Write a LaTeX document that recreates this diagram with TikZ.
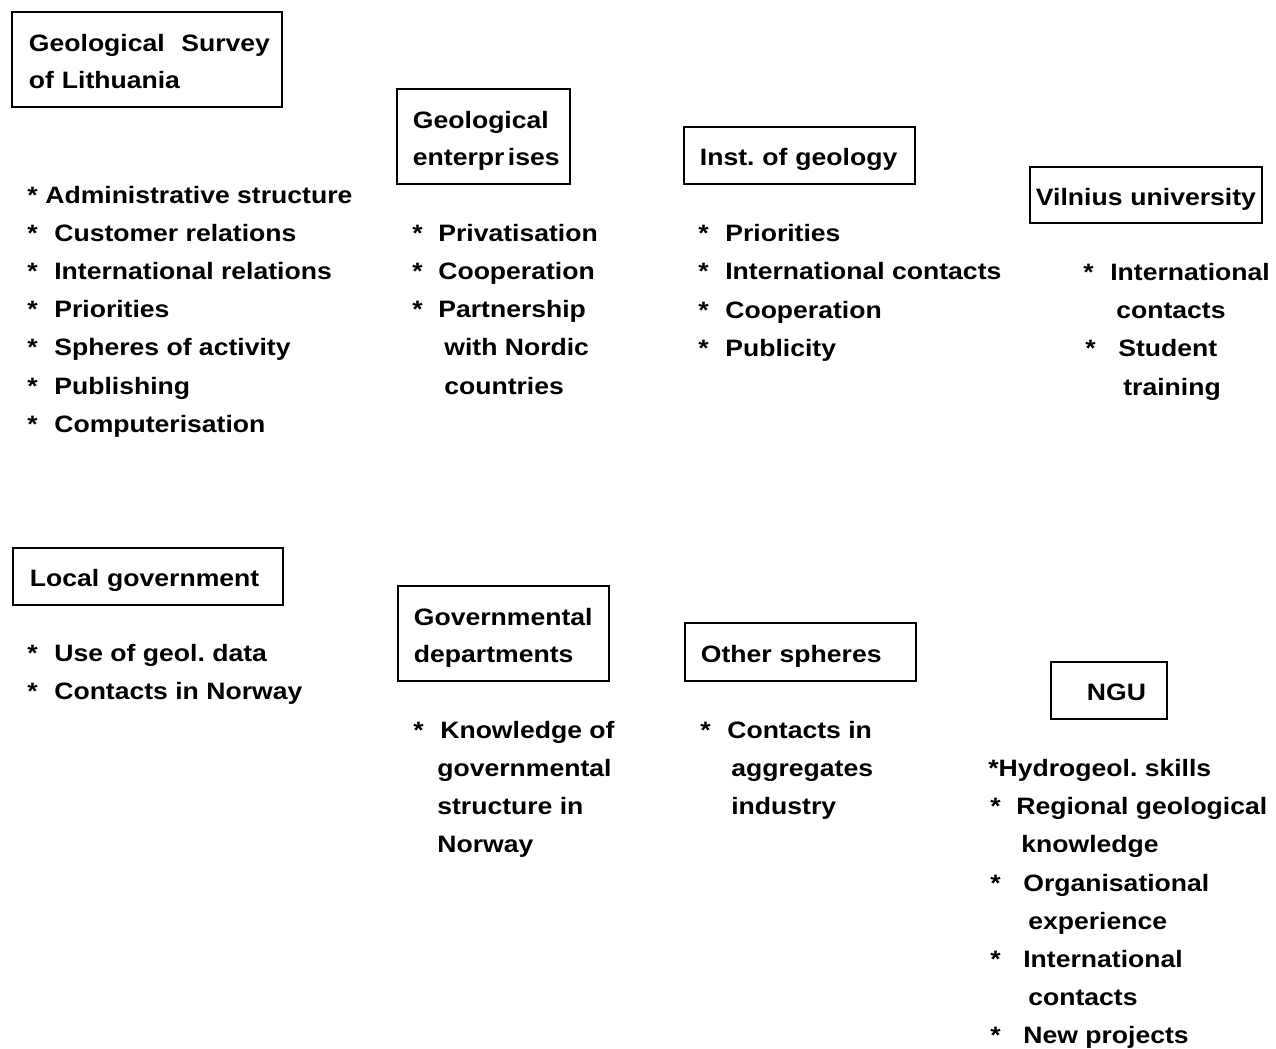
\documentclass[tikz,border=0pt]{standalone}
\usepackage{fontspec}
\setmainfont{Liberation Sans}[FakeStretch=1.12]
\usepackage{tikz}

\tikzset{
  box/.style={draw, line width=1.1pt, anchor=north west, align=left,
    inner ysep=0pt, font=\bfseries\fontsize{13.5}{21.6}\selectfont},
  oneline/.style={text height=11.7pt, text depth=0pt},
  twolines/.style={text depth=19.4pt},
  txt/.style={anchor=base west, inner sep=0pt,
    font=\bfseries\fontsize{13.5}{21.6}\selectfont}
}

\begin{document}
\frenchspacing
\begin{tikzpicture}[x=0.02cm, y=-0.02cm]
\useasboundingbox (0,0) rectangle (1276,1049);

% boxes
\node[box, twolines, minimum width=5.40cm, minimum height=1.90cm, inner xsep=0.34cm, text width=4.72cm] (gsl) at (11,11) {\mbox{Geological\hspace{0.7em}Survey}\\of Lithuania};
\node[box, twolines, minimum width=3.46cm, minimum height=1.90cm, inner xsep=0.32cm, text width=2.82cm] (ent) at (396,88) {Geological\\\mbox{enterpr\kern2pt ises}};
\node[box, oneline, minimum width=4.62cm, minimum height=1.14cm, inner xsep=0.32cm, text width=3.98cm] (inst) at (683,126) {\mbox{Inst. of geology}};
\node[box, oneline, minimum width=4.64cm, minimum height=1.12cm, inner xsep=0.10cm, text width=4.44cm, align=center] (vu) at (1029,166) {\mbox{Vilnius university}};
\node[box, oneline, minimum width=5.40cm, minimum height=1.14cm, inner xsep=0.34cm, text width=4.72cm] (loc) at (12,547) {\mbox{Local government}};
\node[box, twolines, minimum width=4.22cm, minimum height=1.90cm, inner xsep=0.32cm, text width=3.58cm] (gov) at (397,585) {\mbox{Governmental}\\\mbox{departments}};
\node[box, oneline, minimum width=4.62cm, minimum height=1.16cm, inner xsep=0.32cm, text width=3.98cm] (oth) at (684,622) {\mbox{Other spheres}};
\node[box, oneline, minimum width=2.32cm, minimum height=1.14cm, inner xsep=0.72cm, text width=0.88cm] (ngu) at (1050,661) {\mbox{NGU}};

% asterisks
\foreach \x/\y [count=\i] in {27/203,27/241,27/279,27/317,27/355,27/394,27/432,
    412/241,412/279,412/317,698/241,698/279,698/318,698/356,1083/280,1085/356,
    27/661,27/699,413/738,700/738,990/814,990/891,990/967,990/1043}
  \node[txt] (st\i) at (\x,\y) {*};

% Geological Survey of Lithuania
\node[txt] (gsl1) at (45,203) {Administrative structure};
\node[txt] (gsl2) at (54,241) {Customer relations};
\node[txt] (gsl3) at (54,279) {International relations};
\node[txt] (gsl4) at (54,317) {Priorities};
\node[txt] (gsl5) at (54,355) {Spheres of activity};
\node[txt] (gsl6) at (54,394) {Publishing};
\node[txt] (gsl7) at (54,432) {Computerisation};

% Geological enterprises
\node[txt] (ent1) at (438,241) {Privatisation};
\node[txt] (ent2) at (438,279) {Cooperation};
\node[txt] (ent3) at (438,317) {Partnership};
\node[txt] (ent4) at (444,355) {with Nordic};
\node[txt] (ent5) at (444,394) {countries};

% Inst. of geology
\node[txt] (inst1) at (725,241) {Priorities};
\node[txt] (inst2) at (725,279) {International contacts};
\node[txt] (inst3) at (725,318) {Cooperation};
\node[txt] (inst4) at (725,356) {Publicity};

% Vilnius university
\node[txt] (vu1) at (1110,280) {International};
\node[txt] (vu2) at (1116,318) {contacts};
\node[txt] (vu3) at (1118,356) {Student};
\node[txt] (vu4) at (1123,395) {training};

% Local government
\node[txt] (loc1) at (54,661) {Use of geol. data};
\node[txt] (loc2) at (54,699) {Contacts in Norway};

% Governmental departments
\node[txt] (gov1) at (440,738) {Knowledge of};
\node[txt] (gov2) at (437,776) {governmental};
\node[txt] (gov3) at (437,814) {structure in};
\node[txt] (gov4) at (437,852) {Norway};

% Other spheres
\node[txt] (oth1) at (727,738) {Contacts in};
\node[txt] (oth2) at (731,776) {aggregates};
\node[txt] (oth3) at (731,814) {industry};

% NGU
\node[txt] (ngu1) at (988,776) {*Hydrogeol. skills};
\node[txt] (ngu2) at (1016,814) {Regional geological};
\node[txt] (ngu3) at (1021,852) {knowledge};
\node[txt] (ngu4) at (1023,891) {Organisational};
\node[txt] (ngu5) at (1028,929) {experience};
\node[txt] (ngu6) at (1023,967) {International};
\node[txt] (ngu7) at (1028,1005) {contacts};
\node[txt] (ngu8) at (1023,1043) {New projects};
\end{tikzpicture}
\end{document}
